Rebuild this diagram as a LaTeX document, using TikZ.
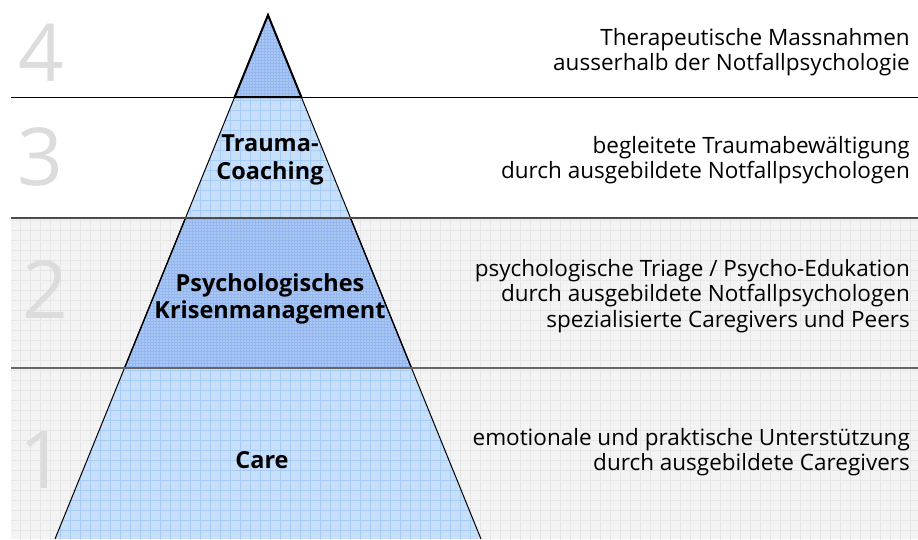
\documentclass[tikz,border=0pt]{standalone}
\usepackage{fontspec}
\setmainfont{Open Sans}
\definecolor{bggray}{HTML}{F3F3F3}
\definecolor{gridgray}{HTML}{E6E6E6}
\definecolor{lightblue}{HTML}{C8DFFA}
\definecolor{lightgrid}{HTML}{A6CCF7}
\definecolor{darkblue}{HTML}{ABC8F5}
\definecolor{darkgrid}{HTML}{7FA8EC}
\definecolor{numgray}{HTML}{DCDCDC}
\tikzset{
  numstyle/.style={text=numgray, font=\fontsize{80}{80}\selectfont, inner sep=0pt},
  desc/.style={anchor=east, align=right, inner sep=0pt, font=\fontsize{22.5}{25.5}\selectfont},
  lvl/.style={align=center, inner sep=0pt, font=\fontsize{23.5}{27.5}\selectfont\bfseries},
  sepline/.style={line width=#1},
}
\begin{document}
\begin{tikzpicture}[x=1pt,y=-1pt]
\useasboundingbox (0,0) rectangle (918,539);
\fill[white] (0,0) rectangle (918,539);
% gray background of lower bands
\fill[bggray] (11,218) rectangle (918,539);
\begin{scope}
  \clip (11,218) rectangle (918,539);
  \draw[gridgray, line width=0.5pt, step=10pt] (0,210) grid (920,540);
\end{scope}
% numbers
\node[numstyle] (n4) at (41,53) {4};
\node[numstyle] (n3) at (40,157) {3};
\node[numstyle] (n2) at (45,290) {2};
\node[numstyle] (n1) at (42,460) {1};
% light pyramid parts
\fill[lightblue] (234.7,97) -- (301.3,97) -- (350.5,218) -- (185.5,218) -- cycle;
\fill[lightblue] (124.5,368) -- (411.5,368) -- (481,539) -- (55,539) -- cycle;
\begin{scope}
  \clip (234.7,97) -- (301.3,97) -- (350.5,218) -- (185.5,218) -- cycle;
  \draw[lightgrid, line width=0.5pt, step=10pt] (180,90) grid (360,220);
\end{scope}
\begin{scope}
  \clip (124.5,368) -- (411.5,368) -- (481,539) -- (55,539) -- cycle;
  \draw[lightgrid, line width=0.5pt, step=10pt] (50,360) grid (490,540);
\end{scope}
% dark pyramid parts
\fill[darkblue] (268,15) -- (301.3,97) -- (234.7,97) -- cycle;
\fill[darkblue] (185.5,218) -- (350.5,218) -- (411.5,368) -- (124.5,368) -- cycle;
\begin{scope}
  \clip (268,15) -- (301.3,97) -- (234.7,97) -- cycle;
  \draw[darkgrid, line width=0.4pt, opacity=0.5, step=3pt] (230,10) grid (310,100);
\end{scope}
\begin{scope}
  \clip (185.5,218) -- (350.5,218) -- (411.5,368) -- (124.5,368) -- cycle;
  \draw[darkgrid, line width=0.4pt, opacity=0.5, step=3pt] (120,215) grid (415,370);
\end{scope}
% pyramid outlines
\draw[line width=1pt] (55,539) -- (268,15) -- (481,539);
\draw[line width=2pt, line join=miter] (268,15) -- (301.3,97) -- (234.7,97) -- cycle;
\draw[line width=1.3pt] (185.5,218) -- (350.5,218) -- (411.5,368) -- (124.5,368) -- cycle;
% separating lines
\draw[sepline=1pt, black] (11,97) -- (918,97);
\draw[sepline=1.5pt, black!70] (11,218) -- (918,218);
\draw[sepline=2pt, black!60] (11,368) -- (918,368);
% pyramid labels
\node[lvl] (l3) at (270,160) {Trauma-\\Coaching};
\node[lvl] (l2) at (270,299) {Psychologisches\\Krisenmanagement};
\node[lvl] (l1) at (262,460) {Care};
% descriptions
\node[desc] (d4) at (910,52) {Therapeutische Massnahmen\\ausserhalb der Notfallpsychologie};
\node[desc] (d3) at (910,160) {begleitete Traumabewältigung\\durch ausgebildete Notfallpsychologen};
\node[desc] (d2) at (910,296) {psychologische Triage / Psycho-Edukation\\durch ausgebildete Notfallpsychologen\\spezialisierte Caregivers und Peers};
\node[desc] (d1) at (910,452) {emotionale und praktische Unterstützung\\durch ausgebildete Caregivers};
\end{tikzpicture}
\end{document}
